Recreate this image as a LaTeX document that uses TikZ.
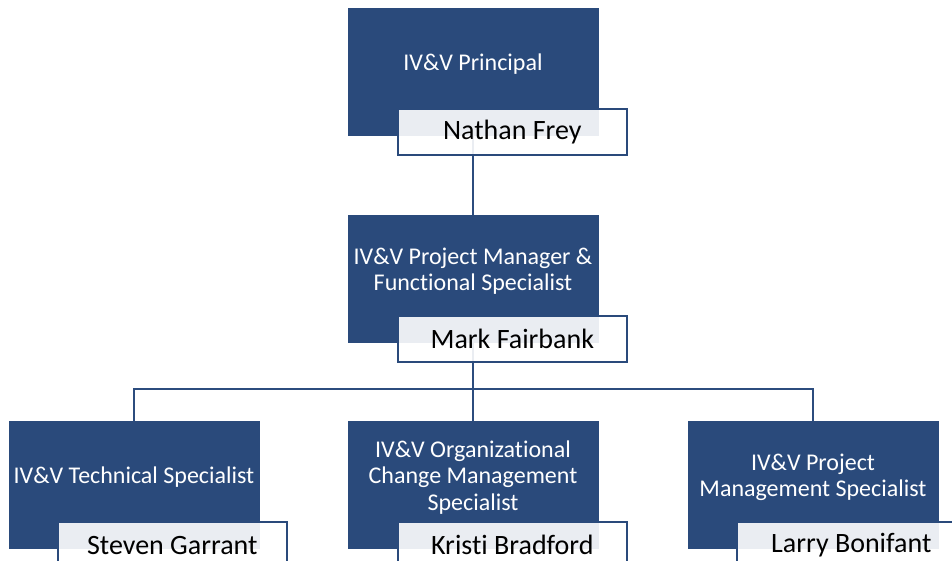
\documentclass[tikz,border=0pt]{standalone}
\usepackage{fontspec}
\setmainfont[Ligatures=NoCommon]{Carlito}
\usepackage{tikz}
\usetikzlibrary{positioning,backgrounds}
\definecolor{cUnit}{HTML}{2A4A7B}
\definecolor{cLink}{HTML}{2C4C7E}
\definecolor{cInk}{HTML}{000000}

\begin{document}
\begin{tikzpicture}[
  x=1pt, y=-1pt,
  unit/.style={fill=cUnit, draw=cUnit, line width=0.4pt, minimum width=250pt, minimum height=127pt, inner sep=0pt},
  role/.style={text=white, align=center, font=\fontsize{24}{26.5}\selectfont, inner sep=0pt},
  who/.style={draw=cUnit, line width=2pt, fill=white, fill opacity=0.9, text opacity=1, text=cInk,
    minimum width=229pt, minimum height=46pt, inner sep=0pt, anchor=north west, font=\fontsize{28}{30}\selectfont},
  link/.style={cLink, line width=2.5pt},
]
\useasboundingbox (0,0) rectangle (952,561);
\clip (0,0) rectangle (952,561);

% ---------- principal ----------
\node[unit] (pBox) at (473,71.5) {};
\node[role] (pRole) at ([yshift=7.5pt]pBox.center) {IV\&V Principal};
\node[who] (pName) at ([xshift=49pt,yshift=27.5pt]pBox.south west) {Nathan Frey};

% ---------- project manager ----------
\node[unit] (mBox) at (473,278.5) {};
\node[role] (mRole) at ([yshift=7.5pt]mBox.center) {IV\&V Project Manager \&\\Functional Specialist};
\node[who] (mName) at ([xshift=49pt,yshift=27.5pt]mBox.south west) {Mark Fairbank};

% ---------- specialists ----------
\node[unit] (tBox) at (134,485) {};
\node[role] (tRole) at ([yshift=7.5pt]tBox.center) {IV\&V Technical Specialist};
\node[who] (tName) at ([xshift=48pt,yshift=27.5pt]tBox.south west) {Steven Garrant};

\node[unit] (oBox) at (473,485) {};
\node[role] (oRole) at ([yshift=7.5pt]oBox.center) {IV\&V Organizational\\Change Management\\Specialist};
\node[who] (oName) at ([xshift=49pt,yshift=27.5pt]oBox.south west) {Kristi Bradford};

\node[unit] (sBox) at (813,485) {};
\node[role] (sRole) at ([yshift=7.5pt]sBox.center) {IV\&V Project\\Management Specialist};
\node[who] (sName) at ([xshift=48pt,yshift=27.5pt]sBox.south west) {Larry Bonifant};

% connectors behind the boxes
\coordinate (bus) at (473,389);
\begin{scope}[on background layer]
  \draw[link] (pBox.south) -- (mBox.north);
  \draw[link] (mBox.south) -- (bus);
  \draw[link] (tBox.north) |- (bus);
  \draw[link] (sBox.north) |- (bus);
  \draw[link] (oBox.north) -- (bus);
\end{scope}

\end{tikzpicture}
\end{document}
